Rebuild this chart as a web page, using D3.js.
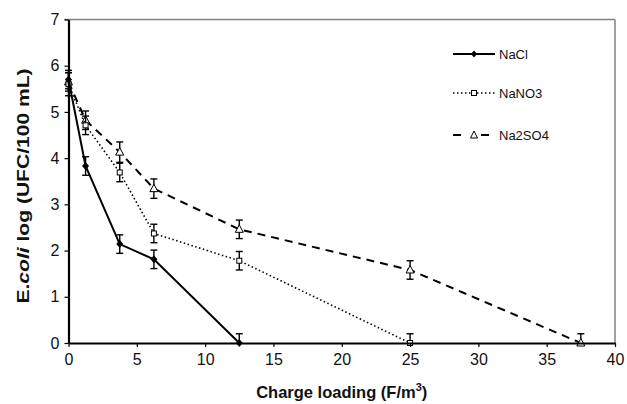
<!DOCTYPE html>
<html><head><meta charset="utf-8">
<script src="https://cdn.jsdelivr.net/npm/d3@7"></script>
<style>body{margin:0;background:#fff}svg{display:block}text{font-family:Arial,"Liberation Sans",sans-serif}</style>
</head><body><svg id="c" width="627" height="404"></svg>
<script>
const xTicks = [0,5,10,15,20,25,30,35,40];
const yTicks = [0,1,2,3,4,5,6,7];
const naclX = [0,1.25,3.75,6.25,12.5];
const naclY = [5.7,3.83,2.14,1.81,0];
const naclErr = [0.2,0.2,0.2,0.2,0.2];
const nano3X = [0,1.25,3.75,6.25,12.5,25];
const nano3Y = [5.6,4.71,3.69,2.37,1.78,0];
const nano3Err = [0.25,0.2,0.2,0.2,0.2,0.2];
const na2so4X = [0,1.25,3.75,6.25,12.5,25,37.5];
const na2so4Y = [5.65,4.82,4.13,3.34,2.46,1.58,0];
const na2so4Err = [0.2,0.2,0.22,0.21,0.2,0.2,0.2];
const seriesNames = ["NaCl","NaNO3","Na2SO4"];

const svg = d3.select("#c");
const L=68.5, R=615, T=19.5, B=343;
const x = d3.scaleLinear().domain([0,40]).range([L,R]);
const y = d3.scaleLinear().domain([0,7]).range([B,T]);

// frame top/right
svg.append("line").attr("x1",L-4).attr("x2",R).attr("y1",T).attr("y2",T).attr("stroke","#808080").attr("stroke-width",1.5);
svg.append("line").attr("x1",R).attr("x2",R).attr("y1",T).attr("y2",B).attr("stroke","#808080").attr("stroke-width",1.5);

const series = [
  {name:seriesNames[0], xs:naclX, ys:naclY, err:naclErr, dash:null, w:2, sym:"diamond"},
  {name:seriesNames[1], xs:nano3X, ys:nano3Y, err:nano3Err, dash:"1.5,2.5", w:1.6, sym:"square"},
  {name:seriesNames[2], xs:na2so4X, ys:na2so4Y, err:na2so4Err, dash:"8,6", w:2, sym:"triangle"}
];

const line = d3.line().x(d=>x(d[0])).y(d=>y(d[1]));

function drawSym(g, type, cx, cy){
  if(type==="diamond"){
    g.append("path").attr("d",`M${cx},${cy-4}L${cx+3.5},${cy}L${cx},${cy+4}L${cx-3.5},${cy}Z`).attr("fill","#000");
  } else if(type==="square"){
    g.append("rect").attr("x",cx-2.5).attr("y",cy-2.5).attr("width",5).attr("height",5).attr("fill","#fff").attr("stroke","#000").attr("stroke-width",1);
  } else {
    g.append("path").attr("d",`M${cx},${cy-4.5}L${cx+4},${cy+3}L${cx-4},${cy+3}Z`).attr("fill","#fff").attr("stroke","#000").attr("stroke-width",1);
  }
}

series.slice().reverse().forEach(s=>{
  const pts = s.xs.map((v,i)=>[v,s.ys[i]]);
  const g = svg.append("g");
  g.append("path").attr("d",line(pts)).attr("fill","none").attr("stroke","#000")
    .attr("stroke-width",s.w).attr("stroke-dasharray",s.dash);
  pts.forEach((p,i)=>{
    const cx=x(p[0]), lo=y(Math.max(0,p[1]-s.err[i])), hi=y(p[1]+s.err[i]);
    g.append("line").attr("x1",cx).attr("x2",cx).attr("y1",lo).attr("y2",hi).attr("stroke","#000").attr("stroke-width",1.4);
    g.append("line").attr("x1",cx-3.5).attr("x2",cx+3.5).attr("y1",hi).attr("y2",hi).attr("stroke","#000").attr("stroke-width",1.4);
    if(p[1]-s.err[i]>0) g.append("line").attr("x1",cx-3.5).attr("x2",cx+3.5).attr("y1",lo).attr("y2",lo).attr("stroke","#000").attr("stroke-width",1.4);
    drawSym(g,s.sym,cx,y(p[1]));
  });
});

// axes
const fmt = d3.format("d");
const xa = svg.append("g").attr("transform",`translate(0,${B})`)
  .call(d3.axisBottom(x).tickValues(xTicks).tickFormat(fmt).tickSize(4).tickPadding(4).tickSizeOuter(0));
const ya = svg.append("g").attr("transform",`translate(${L},0)`)
  .call(d3.axisLeft(y).tickValues(yTicks).tickFormat(fmt).tickSize(4).tickPadding(5).tickSizeOuter(0));
[xa,ya].forEach(a=>{
  a.select(".domain").attr("stroke","#000").attr("stroke-width",2.2);
  a.selectAll(".tick line").attr("stroke","#000").attr("stroke-width",1.2);
  a.selectAll(".tick text").attr("font-size",16).attr("fill","#111").attr("font-family","Arial,'Liberation Sans',sans-serif");
});
xa.selectAll(".tick text").attr("dy","0.9em");

// axis titles
const xt = svg.append("text").attr("x",(L+R)/2).attr("y",398).attr("text-anchor","middle")
  .attr("font-size",16.5).attr("font-weight","bold").attr("fill","#111");
xt.append("tspan").text("Charge loading (F/m");
xt.append("tspan").attr("font-size",11).attr("dy",-7).text("3");
xt.append("tspan").attr("dy",7).text(")");

const yt = svg.append("text").attr("transform",`translate(29,186) rotate(-90) scale(1.24,1)`).attr("text-anchor","middle")
  .attr("font-size",17).attr("font-weight","bold").attr("fill","#111");
yt.append("tspan").text("E.");
yt.append("tspan").attr("font-style","italic").text("coli");
yt.append("tspan").text(" log (UFC/100 mL)");

// legend
const legY = [54,93,135];
series.forEach((s,i)=>{
  const g = svg.append("g");
  g.append("line").attr("x1",453).attr("x2",495).attr("y1",legY[i]).attr("y2",legY[i])
    .attr("stroke","#000").attr("stroke-width",s.w).attr("stroke-dasharray",s.dash);
  if(s.sym==="triangle"){
    g.append("rect").attr("x",467).attr("y",legY[i]-6).attr("width",14).attr("height",12).attr("fill","#fff");
  }
  const cx=474, cy=legY[i];
  if(s.sym==="diamond") g.append("path").attr("d",`M${cx},${cy-3.5}L${cx+3},${cy}L${cx},${cy+3.5}L${cx-3},${cy}Z`).attr("fill","#000");
  else if(s.sym==="square") g.append("rect").attr("x",cx-2.5).attr("y",cy-2.5).attr("width",5).attr("height",5).attr("fill","#fff").attr("stroke","#000").attr("stroke-width",1);
  else g.append("path").attr("d",`M${cx},${cy-4}L${cx+3.5},${cy+3}L${cx-3.5},${cy+3}Z`).attr("fill","#fff").attr("stroke","#000").attr("stroke-width",1);
  g.append("text").attr("x",499).attr("y",legY[i]+4.5).attr("font-size",13).attr("fill","#111").text(s.name);
});
</script></body></html>
